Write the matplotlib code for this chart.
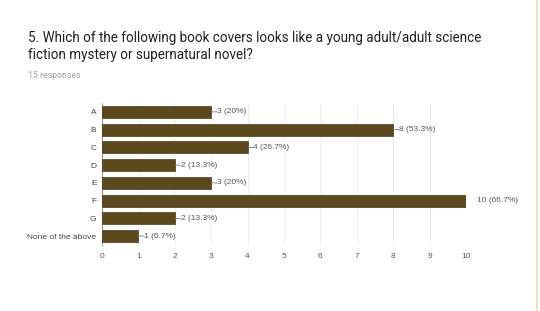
import matplotlib
matplotlib.use("Agg")
import matplotlib.pyplot as plt

plt.rcParams['font.family'] = ['Roboto', 'DejaVu Sans']

categories = ["A", "B", "C", "D", "E", "F", "G", "None of the above"]
counts = [3, 8, 4, 2, 3, 10, 2, 1]
labels = ["3 (20%)", "8 (53.3%)", "4 (26.7%)", "2 (13.3%)", "3 (20%)", "10 (66.7%)", "2 (13.3%)", "1 (6.7%)"]
xticks = list(range(0, 11))

chart_font = ['Liberation Sans', 'DejaVu Sans']

fig = plt.figure(figsize=(5.4, 3.11), dpi=100)
fig.patch.set_facecolor("white")

fig.text(28/540, 1 - 38/311, "5. Which of the following book covers looks like a young adult/adult science",
         fontsize=9.75, color="#212121", va="center", ha="left")
fig.text(28/540, 1 - 55/311, "fiction mystery or supernatural novel?",
         fontsize=9.75, color="#212121", va="center", ha="left")
fig.text(28/540, 1 - 75/311, "15 responses", fontsize=6.3, color="#9e9e9e", va="center", ha="left")

ax = fig.add_axes([102/540, 1 - 245/311, (466 - 102)/540, (245 - 103)/311])
y = list(range(len(categories)))
ax.barh(y, counts, height=0.68, color="#5c4a1e", edgecolor="#4a3b15", linewidth=0.5, zorder=3)
ax.set_ylim(len(categories) - 0.5, -0.5)
ax.set_xlim(0, 10)
ax.set_xticks(xticks)
ax.set_xticklabels([str(t) for t in xticks], fontsize=6, color="#555555", family=chart_font)
ax.set_yticks(y)
ax.set_yticklabels(categories, fontsize=6, color="#444444", family=chart_font)
ax.tick_params(axis='both', length=0, pad=4)
ax.tick_params(axis='x', pad=6)
ax.grid(axis='x', color="#eeeeee", linewidth=0.7, zorder=0)
for s in ["top", "right", "bottom"]:
    ax.spines[s].set_visible(False)
ax.spines["left"].set_color("#999999")
ax.spines["left"].set_linewidth(0.8)

for yi, c, lab in zip(y, counts, labels):
    if c >= 10:
        ax.annotate(lab, (c, yi), xytext=(8, 0), textcoords="offset points",
                    fontsize=6, color="#555555", va="center", ha="left", family=chart_font)
    else:
        ax.annotate(lab, (c, yi), xytext=(4.2, 0), textcoords="offset points",
                    fontsize=6, color="#555555", va="center", ha="left", family=chart_font)
        ax.annotate("", xy=(c, yi), xytext=(4.2, 0), textcoords="offset points",
                    arrowprops=dict(arrowstyle="-", color="#777777", lw=0.6,
                                    shrinkA=0, shrinkB=0))

fig.add_artist(plt.Line2D([537/540, 537/540], [0, 1], color="#e8e2d0", lw=1.5, transform=fig.transFigure))

fig.savefig("out.png", dpi=100, facecolor="white")
